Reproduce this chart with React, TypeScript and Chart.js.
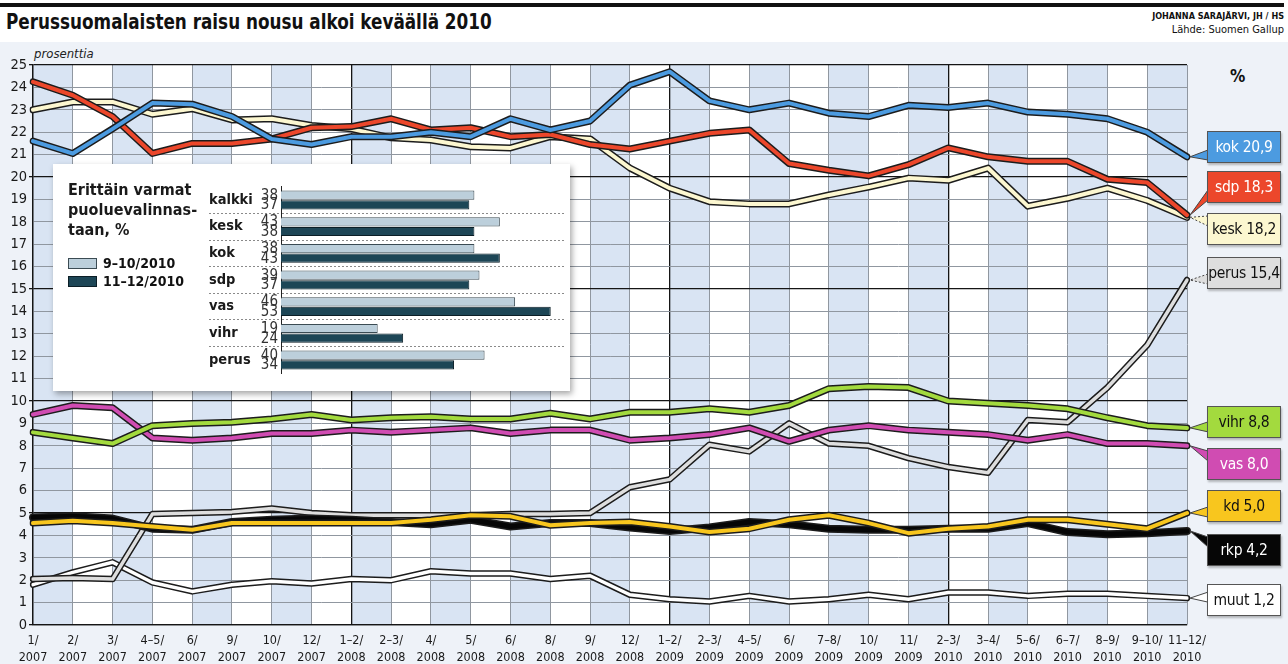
import React, { useEffect, useRef } from 'react';
import { Chart, registerables } from 'chart.js';
Chart.register(...registerables);

const NARROW = "'Liberation Sans Narrow', 'Arial Narrow', 'DejaVu Sans Condensed', 'Roboto Condensed', Roboto, sans-serif";

// ---- main chart data ----
const periods = ['1/2007', '2/2007', '3/2007', '4–5/2007', '6/2007', '9/2007', '10/2007', '12/2007',
  '1–2/2008', '2–3/2008', '4/2008', '5/2008', '6/2008', '8/2008', '9/2008', '12/2008',
  '1–2/2009', '2–3/2009', '4–5/2009', '6/2009', '7–8/2009', '10/2009', '11/2009',
  '2–3/2010', '3–4/2010', '5–6/2010', '6–7/2010', '8–9/2010', '9–10/2010', '11–12/2010'];

const kok = [21.6, 21.05, 22.15, 23.3, 23.25, 22.7, 21.7, 21.45, 21.8, 21.8, 22.0, 21.8, 22.6, 22.1, 22.5, 24.1, 24.7, 23.4, 23.0, 23.3, 22.85, 22.7, 23.2, 23.1, 23.3, 22.9, 22.8, 22.6, 22.0, 20.9];
const sdp = [24.25, 23.65, 22.7, 21.05, 21.5, 21.5, 21.7, 22.2, 22.25, 22.6, 22.1, 22.2, 21.8, 21.9, 21.45, 21.25, 21.6, 21.95, 22.1, 20.6, 20.3, 20.05, 20.55, 21.3, 20.9, 20.7, 20.7, 19.9, 19.75, 18.3];
const kesk = [23.0, 23.35, 23.35, 22.8, 23.05, 22.55, 22.6, 22.3, 22.15, 21.75, 21.65, 21.35, 21.3, 21.8, 21.7, 20.4, 19.5, 18.9, 18.8, 18.8, 19.2, 19.55, 19.95, 19.85, 20.4, 18.7, 19.05, 19.5, 18.95, 18.2];
const perus = [2.05, 2.1, 2.05, 4.95, 5.0, 5.05, 5.2, 5.0, 4.9, 4.9, 4.9, 4.9, 4.95, 4.95, 5.0, 6.15, 6.5, 8.05, 7.75, 9.0, 8.1, 8.0, 7.45, 7.05, 6.8, 9.15, 9.05, 10.6, 12.5, 15.4];
const vihr = [8.6, 8.35, 8.1, 8.9, 9.0, 9.05, 9.2, 9.4, 9.15, 9.25, 9.3, 9.2, 9.2, 9.45, 9.2, 9.5, 9.5, 9.65, 9.5, 9.8, 10.55, 10.65, 10.6, 10.0, 9.9, 9.8, 9.65, 9.25, 8.9, 8.8];
const vas = [9.4, 9.8, 9.7, 8.35, 8.25, 8.35, 8.55, 8.55, 8.7, 8.6, 8.7, 8.8, 8.55, 8.7, 8.7, 8.25, 8.35, 8.5, 8.8, 8.2, 8.7, 8.9, 8.7, 8.6, 8.5, 8.25, 8.5, 8.1, 8.1, 8.0];
const kd = [4.55, 4.65, 4.55, 4.4, 4.25, 4.55, 4.55, 4.55, 4.55, 4.55, 4.7, 4.9, 4.85, 4.45, 4.55, 4.6, 4.4, 4.15, 4.3, 4.7, 4.9, 4.55, 4.1, 4.3, 4.4, 4.7, 4.7, 4.5, 4.3, 5.0];
const rkp = [4.8, 4.85, 4.75, 4.3, 4.25, 4.6, 4.7, 4.75, 4.7, 4.6, 4.5, 4.7, 4.4, 4.55, 4.55, 4.35, 4.2, 4.35, 4.6, 4.5, 4.3, 4.25, 4.25, 4.3, 4.3, 4.55, 4.15, 4.05, 4.1, 4.2];
const muut = [1.8, 2.35, 2.8, 1.9, 1.5, 1.8, 1.95, 1.85, 2.05, 2.0, 2.4, 2.3, 2.3, 2.05, 2.2, 1.35, 1.15, 1.05, 1.3, 1.05, 1.15, 1.35, 1.15, 1.45, 1.45, 1.3, 1.4, 1.4, 1.3, 1.2];

const yTicks = [0, 25];

// ---- inset data ----
const insetGroups = ['kalkki', 'kesk', 'kok', 'sdp', 'vas', 'vihr', 'perus'];
const sepOct = [38, 43, 38, 39, 46, 19, 40];
const novDec = [37, 38, 43, 37, 53, 24, 34];
const insetSeriesNames = ['9–10/2010', '11–12/2010'];

// series styling (bottom -> top)
const seriesDefs = [
  { name: 'muut', data: muut, color: '#ffffff', text: '#111', w: 3.5, box: 584 },
  { name: 'perus', data: perus, color: '#dedede', text: '#111', w: 3.5, box: 257 },
  { name: 'rkp', data: rkp, color: '#060606', text: '#fff', w: 5, box: 534 },
  { name: 'kd', data: kd, color: '#f8c61e', text: '#111', w: 4, box: 490 },
  { name: 'vas', data: vas, color: '#d04cb2', text: '#fff', w: 4, box: 448 },
  { name: 'vihr', data: vihr, color: '#a3da3e', text: '#111', w: 4, box: 406 },
  { name: 'kesk', data: kesk, color: '#fcf7d0', text: '#111', w: 4, box: 213 },
  { name: 'sdp', data: sdp, color: '#ec472b', text: '#fff', w: 4, box: 171 },
  { name: 'kok', data: kok, color: '#4c9be0', text: '#fff', w: 4, box: 131 },
];
const BOX_LEFT = 1207;
const BOX_W = 74;
const BOX_H = 32;

const yearStarts = periods.map((p, i) => (i > 0 && p.split('/')[1] !== periods[i - 1].split('/')[1]) ? i : -1).filter(i => i >= 0);

const fmt = (v: number) => v.toFixed(1).replace('.', ',');

const bandsPlugin = {
  id: 'bands',
  beforeDraw(chart: any) {
    const { ctx, chartArea: a, scales } = chart;
    const x = scales.x;
    ctx.save();
    ctx.fillStyle = '#ffffff';
    ctx.fillRect(a.left, a.top, a.right - a.left, a.bottom - a.top);
    ctx.fillStyle = '#d9e4f3';
    for (let i = 0; i < periods.length - 1; i += 2) {
      const x0 = x.getPixelForValue(i);
      const x1 = x.getPixelForValue(i + 1);
      ctx.fillRect(x0, a.top, x1 - x0, a.bottom - a.top);
    }
    ctx.restore();
  },
};

const pointerPlugin = {
  id: 'pointers',
  afterDatasetsDraw(chart: any) {
    const { ctx, scales } = chart;
    const last = periods.length - 1;
    const tipX = scales.x.getPixelForValue(last) + 3;
    ctx.save();
    seriesDefs.forEach(s => {
      const yEnd = scales.y.getPixelForValue(s.data[last]);
      const top = s.box;
      const yb1 = Math.min(Math.max(yEnd - 6, top + 3), top + BOX_H - 13);
      const yb2 = yb1 + 10;
      ctx.beginPath();
      ctx.moveTo(BOX_LEFT + 1, yb1);
      ctx.lineTo(tipX, yEnd);
      ctx.lineTo(BOX_LEFT + 1, yb2);
      ctx.closePath();
      ctx.fillStyle = s.color;
      ctx.fill();
      ctx.beginPath();
      ctx.moveTo(BOX_LEFT + 1, yb1);
      ctx.lineTo(tipX, yEnd);
      ctx.lineTo(BOX_LEFT + 1, yb2);
      ctx.strokeStyle = '#444';
      ctx.lineWidth = 1;
      ctx.setLineDash(s.name === 'kesk' || s.name === 'perus' ? [2, 2] : []);
      ctx.stroke();
    });
    ctx.restore();
  },
};

function mainConfig(): any {
  const datasets: any[] = [];
  seriesDefs.forEach((s, k) => {
    datasets.push({
      label: s.name + '-outline', data: s.data, borderColor: '#1c1c1c', borderWidth: s.w + 3,
      pointRadius: 0, tension: 0, borderJoinStyle: 'round', borderCapStyle: 'round', order: 1000 - 2 * k,
    });
    datasets.push({
      label: s.name, data: s.data, borderColor: s.color, borderWidth: s.w,
      pointRadius: 0, tension: 0, borderJoinStyle: 'round', borderCapStyle: 'round', order: 1000 - 2 * k - 1,
    });
  });
  return {
    type: 'line',
    data: { labels: periods.map(p => { const [a, b] = p.split('/'); return [a + '/', b]; }), datasets },
    options: {
      responsive: false,
      animation: false,
      layout: { padding: { left: 0, top: 65, right: 101, bottom: 0 } },
      plugins: { legend: { display: false }, tooltip: { enabled: false } },
      scales: {
        x: {
          afterFit: (s: any) => { s.height = 39; },
          grid: {
            drawTicks: false,
            color: (c: any) => (c.index === 0 || yearStarts.includes(c.index)) ? '#151515' : '#9097a0',
            lineWidth: (c: any) => (c.index === 0 || yearStarts.includes(c.index)) ? 1.3 : 1,
          },
          border: { display: true, color: '#151515', width: 1.3 },
          ticks: {
            autoSkip: false, maxRotation: 0, padding: 8, color: '#1a1a1a',
            font: { family: NARROW, size: 12.5, lineHeight: 1.3 },
          },
        },
        y: {
          min: yTicks[0], max: yTicks[1],
          afterFit: (s: any) => { s.width = 33; },
          grid: {
            drawTicks: true, tickLength: 4,
            color: (c: any) => (c.tick && c.tick.value % 5 === 0) ? '#151515' : '#9097a0',
            tickColor: (c: any) => (c.tick && c.tick.value % 5 === 0) ? '#151515' : 'rgba(0,0,0,0)',
            lineWidth: (c: any) => (c.tick && c.tick.value % 5 === 0) ? 1.3 : 1,
          },
          border: { display: true, color: '#151515', width: 1.3 },
          ticks: {
            stepSize: 1, padding: 2, color: '#1a1a1a',
            font: { family: NARROW, size: 14.5 },
          },
        },
      },
    },
    plugins: [bandsPlugin, pointerPlugin],
  };
}

const numbersPlugin = {
  id: 'insetNumbers',
  afterDatasetsDraw(chart: any) {
    const { ctx } = chart;
    ctx.save();
    ctx.font = `15px ${NARROW}`;
    ctx.fillStyle = '#333';
    ctx.textAlign = 'right';
    ctx.textBaseline = 'middle';
    chart.data.datasets.forEach((ds: any, d: number) => {
      const meta = chart.getDatasetMeta(d);
      meta.data.forEach((bar: any, i: number) => {
        ctx.fillText(String(ds.data[i]), bar.base - 3, bar.y + 0.5);
      });
    });
    ctx.restore();
  },
};

function insetConfig(): any {
  const sepColor = (c: any) => (c.index === undefined || c.index === 0) ? 'rgba(0,0,0,0)' : '#8a8a8a';
  return {
    type: 'bar',
    data: {
      labels: insetGroups,
      datasets: [
        { label: insetSeriesNames[0], data: sepOct, backgroundColor: '#bccfdb', borderColor: '#3b4b53', borderWidth: 1, categoryPercentage: 0.72, barPercentage: 0.96 },
        { label: insetSeriesNames[1], data: novDec, backgroundColor: '#1d4656', borderColor: '#0b1e26', borderWidth: 1, categoryPercentage: 0.72, barPercentage: 0.96 },
      ],
    },
    options: {
      indexAxis: 'y',
      responsive: false,
      animation: false,
      layout: { padding: { top: 3, right: 3, bottom: 2, left: 0 } },
      plugins: { legend: { display: false }, tooltip: { enabled: false } },
      scales: {
        x: { display: false, min: 0, max: 56 },
        y: {
          afterFit: (s: any) => { s.width = 72; },
          grid: {
            offset: true, drawOnChartArea: true, drawTicks: true, tickLength: 72,
            color: sepColor, tickColor: sepColor, tickBorderDash: [2, 2],
          },
          border: { display: true, color: '#222', width: 1, dash: [2, 2] },
          ticks: { crossAlign: 'far', color: '#1a1a1a', font: { family: NARROW, size: 14.5, weight: 'bold' } },
        },
      },
    },
    plugins: [numbersPlugin],
  };
}

export default function App() {
  const mainRef = useRef<HTMLCanvasElement>(null);
  const insetRef = useRef<HTMLCanvasElement>(null);
  useEffect(() => {
    const c1 = new Chart(mainRef.current as HTMLCanvasElement, mainConfig());
    const c2 = new Chart(insetRef.current as HTMLCanvasElement, insetConfig());
    return () => { c1.destroy(); c2.destroy(); };
  }, []);

  const abs = (l: number, t: number, extra: any = {}) => ({ position: 'absolute' as const, left: l, top: t, ...extra });

  return (
    <div style={{ position: 'absolute', left: 0, top: 0, width: 1288, height: 664, background: '#fff', overflow: 'hidden', fontFamily: NARROW, color: '#111' }}>
      <div style={abs(0, 42, { width: 1288, height: 622, background: '#eef2f8' })} />
      <div style={abs(0, 3, { width: 1284, height: 4, background: '#111' })} />
      <div style={abs(6, 9, { font: `bold 21.5px ${NARROW}`, whiteSpace: 'nowrap', color: '#111', transform: 'scaleX(0.87)', transformOrigin: '0 0' })}>Perussuomalaisten raisu nousu alkoi keväällä 2010</div>
      <div style={abs(1084, 11, { width: 200, textAlign: 'right', font: `bold 9px ${NARROW}`, whiteSpace: 'nowrap' })}>JOHANNA SARAJÄRVI, JH / HS</div>
      <div style={abs(1084, 23, { width: 200, textAlign: 'right', font: `11px ${NARROW}`, whiteSpace: 'nowrap' })}>Lähde: Suomen Gallup</div>
      <div style={abs(34, 46, { font: `italic 13px ${NARROW}`, color: '#222' })}>prosenttia</div>
      <div style={abs(1230, 66, { font: `bold 17px ${NARROW}` })}>%</div>
      <canvas ref={mainRef} width={1288} height={664} style={abs(0, 0, { display: 'block', width: 1288, height: 664 })} />
      {seriesDefs.map(s => (
        <div key={s.name} style={abs(BOX_LEFT, s.box, {
          width: BOX_W, height: BOX_H, boxSizing: 'border-box', background: s.color, color: s.text,
          border: '1px solid #555', boxShadow: '1px 2px 2px rgba(0,0,0,0.25)', display: 'flex', alignItems: 'center',
          justifyContent: 'center', font: `15.5px ${NARROW}`, whiteSpace: 'nowrap', letterSpacing: '-0.3px',
        })}>{s.name + ' ' + fmt(s.data[s.data.length - 1])}</div>
      ))}
      <div style={abs(53, 164, { width: 517, height: 227, background: '#fff', boxShadow: '2px 3px 6px rgba(0,0,0,0.35)' })} />
      <div style={abs(68, 180, { font: `bold 16px ${NARROW}`, lineHeight: '20px', color: '#1a1a1a' })}>
        Erittäin varmat<br />puoluevalinnas-<br />taan, %
      </div>
      <div style={abs(68, 258, { width: 29, height: 11, boxSizing: 'border-box', background: '#bccfdb', border: '1px solid #3b4b53' })} />
      <div style={abs(103, 255, { font: `bold 14px ${NARROW}`, lineHeight: '17px' })}>{insetSeriesNames[0]}</div>
      <div style={abs(68, 276, { width: 29, height: 11, boxSizing: 'border-box', background: '#1d4656', border: '1px solid #0b1e26' })} />
      <div style={abs(103, 273, { font: `bold 14px ${NARROW}`, lineHeight: '17px' })}>{insetSeriesNames[1]}</div>
      <canvas ref={insetRef} width={360} height={210} style={abs(209, 175, { display: 'block', width: 360, height: 210 })} />
    </div>
  );
}
